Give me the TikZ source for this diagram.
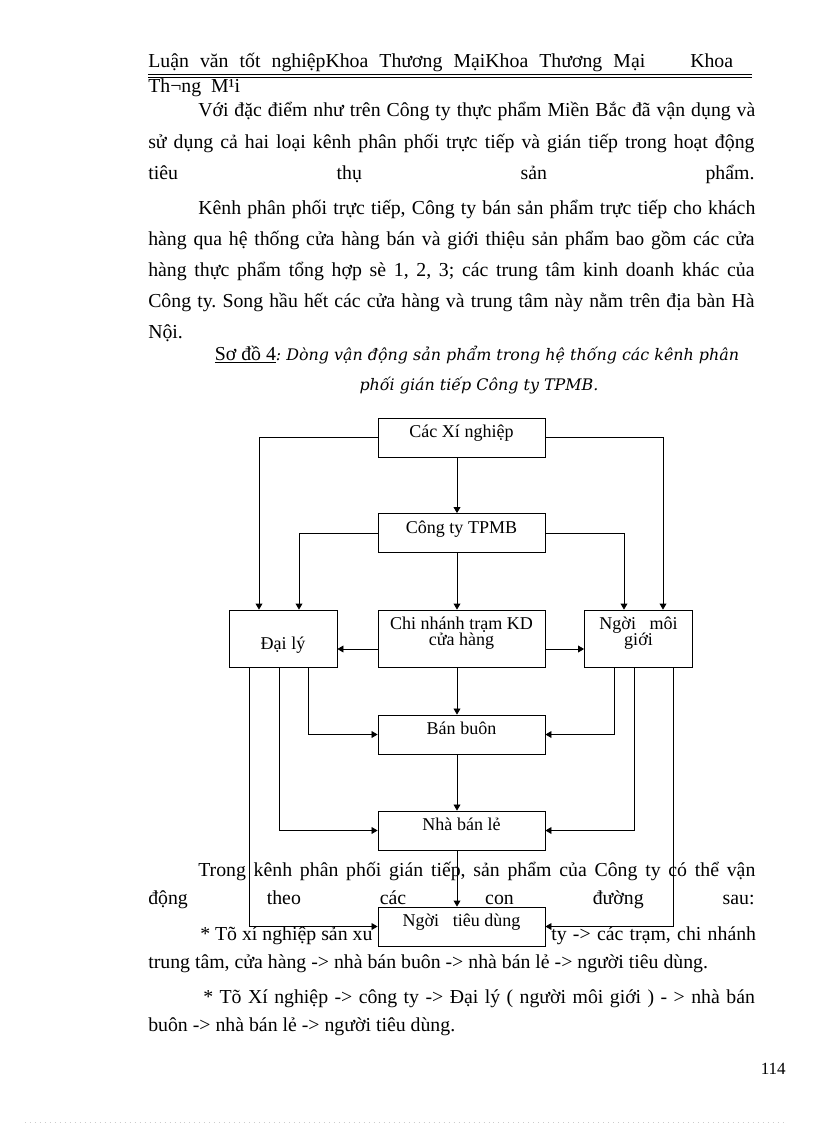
\documentclass[tikz,border=0pt]{standalone}
\usepackage{fontspec}
\setmainfont{Liberation Serif}
\newfontfamily\capfont{DejaVu Serif}
\usetikzlibrary{arrows.meta, calc}

\newcommand{\bodysize}{\fontsize{14.5}{17}\selectfont}
\newcommand{\capsize}{\capfont\itshape\fontsize{11.65}{13}\selectfont}
\newcommand{\fl}[2]{\makebox[#1][s]{#2}}
\newcommand{\twol}[3]{\parbox[t]{#1}{\centering\lineskiplimit=-20pt #2\\#3}}
\frenchspacing

\begin{document}
\begin{tikzpicture}[
        x=0.2574mm, y=-0.2574mm,
        txt/.style={anchor=base west, inner sep=0pt, font=\bodysize},
        blk/.style={
            rectangle, draw=black, fill=white, line width=0.6pt, inner sep=0pt,
            minimum width=43mm, minimum height=10.04mm,
            font=\fontsize{13.2}{11.7}\selectfont, text height=8pt, text depth=8pt
        },
        mid/.style={blk, minimum height=14.67mm},
        side/.style={blk, minimum width=27.8mm, minimum height=14.67mm},
        arrow/.style={-{Triangle[length=4.4pt, width=5pt]}, line width=0.6pt}
    ]
        \useasboundingbox (0,0) rectangle (816,1123);

        % Header
        \node[txt] (hd1) at (148,67) {\fl{364pt}{Luận văn tốt nghiệpKhoa Thương MạiKhoa Thương Mại}};
        \node[txt] (hd2) at (690,67) {Khoa};
        \draw[line width=1.1pt] (148,74.5) -- (752,74.5);
        \draw[line width=0.5pt] (148,77.5) -- (752,77.5);
        \node[txt] (hd3) at (148,92) {Th¬ng~~M¹i};

        % First paragraphs
        \node[txt] (p1a) at (198,116) {\fl{408pt}{Với đặc điểm như trên Công ty thực phẩm Miền Bắc đã vận dụng và}};
        \node[txt] (p1b) at (148,148) {\fl{444pt}{sử dụng cả hai loại kênh phân phối trực tiếp và gián tiếp trong hoạt động}};
        \node[txt] (p1c) at (148,179) {\fl{444pt}{tiêu thụ sản phẩm.}};

        \node[txt] (p2a) at (198,214.5) {\fl{408pt}{Kênh phân phối trực tiếp, Công ty bán sản phẩm trực tiếp cho khách}};
        \node[txt] (p2b) at (148,245.5) {\fl{444pt}{hàng qua hệ thống cửa hàng bán và giới thiệu sản phẩm bao gồm các cửa}};
        \node[txt] (p2c) at (148,276.5) {\fl{444pt}{hàng thực phẩm tổng hợp sè 1, 2, 3; các trung tâm kinh doanh khác của}};
        \node[txt] (p2d) at (148,307.5) {\fl{444pt}{Công ty. Song hầu hết các cửa hàng và trung tâm này nằm trên địa bàn Hà}};
        \node[txt] (p2e) at (148,338.5) {Nội.};

        % Caption
        \node[anchor=base, inner sep=0pt, font=\bodysize] (cap1) at (477,360) {\underline{Sơ đồ 4}{\capsize: Dòng vận động sản phẩm trong hệ thống các kênh phân}};
        \node[anchor=base, inner sep=0pt] (cap2) at (479,390) {{\capsize phối gián tiếp Công ty TPMB.}};

        % Text below the chart
        \node[txt] (p3a) at (198,876.5) {\fl{408pt}{Trong kênh phân phối gián tiếp, sản phẩm của Công ty có thể vận}};
        \node[txt] (p3b) at (148,904.5) {\fl{444pt}{động theo các con đường sau:}};
        \node[txt] (p3c) at (200,940) {* Tõ xí nghiệp sản xu};
        \node[txt] (p3d) at (551,940) {\fl{150pt}{ty -> các trạm, chi nhánh}};
        \node[txt] (p3e) at (148,968) {trung tâm, cửa hàng -> nhà bán buôn -> nhà bán lẻ -> người tiêu dùng.};
        \node[txt] (p4a) at (203,1003) {\fl{404pt}{* Tõ Xí nghiệp -> công ty -> Đại lý ( người môi giới ) - > nhà bán}};
        \node[txt] (p4b) at (148,1031) {buôn -> nhà bán lẻ -> người tiêu dùng.};

        % Footer
        \node[anchor=base east, inner sep=0pt, font=\fontsize{12.5}{14}\selectfont] (pgno) at (786,1074) {114};
        \draw[gray!40, line width=0.6pt, dash pattern=on 0.6pt off 3.05pt] (25,1122) -- (786,1122);

        % Chart boxes
        \node[blk] (xn) at (461.5,437.5) {Các Xí nghiệp};
        \node[blk] (ct) at (461.5,533) {Công ty TPMB};
        \node[side, text height=19.4pt, text depth=4pt] (dl) at (283,638.5) {Đại lý};
        \node[mid, text height=6pt, text depth=19.8pt] (cn) at (461.5,638.5) {\twol{40mm}{Chi nhánh trạm KD}{cửa hàng}};
        \node[side, text height=6pt, text depth=19.8pt] (mg) at (638.5,638.5) {\twol{25mm}{Ngời~~~môi}{giới}};
        \node[blk] (bb) at (461.5,734.5) {Bán buôn};
        \node[blk] (bl) at (461.5,830.5) {Nhà bán lẻ};
        \node[blk] (td) at (461.5,926.5) {Ngời~~~tiêu dùng};

        % Columns and rows of the connectors
        \coordinate (colC) at (457,0);
        \coordinate (dlA) at (249,0);
        \coordinate (dlB) at (259,0);
        \coordinate (dlC) at (279,0);
        \coordinate (dlD) at (299,0);
        \coordinate (dlE) at (308,0);
        \coordinate (mgA) at (614,0);
        \coordinate (mgB) at (624,0);
        \coordinate (mgC) at (634,0);
        \coordinate (mgD) at (663,0);
        \coordinate (mgE) at (673,0);
        \coordinate (rowR) at (0,649);

        % Flow arrows
        \draw[arrow] (xn.west) -| (dl.north -| dlB);
        \draw[arrow] (xn.east) -| (mg.north -| mgD);
        \draw[arrow] (xn.south -| colC) -- (ct.north -| colC);
        \draw[arrow] (ct.west) -| (dl.north -| dlD);
        \draw[arrow] (ct.east) -| (mg.north -| mgB);
        \draw[arrow] (ct.south -| colC) -- (cn.north -| colC);
        \draw[arrow] (cn.west |- rowR) -- (dl.east |- rowR);
        \draw[arrow] (cn.east |- rowR) -- (mg.west |- rowR);
        \draw[arrow] (cn.south -| colC) -- (bb.north -| colC);
        \draw[arrow] (bb.south -| colC) -- (bl.north -| colC);
        \draw[arrow] (bl.south -| colC) -- (td.north -| colC);

        \draw[arrow] (dl.south -| dlE) |- (bb.west);
        \draw[arrow] (dl.south -| dlC) |- (bl.west);
        \draw[arrow] (dl.south -| dlA) |- (td.west);
        \draw[arrow] (mg.south -| mgA) |- (bb.east);
        \draw[arrow] (mg.south -| mgC) |- (bl.east);
        \draw[arrow] (mg.south -| mgE) |- (td.east);

    \end{tikzpicture}
\end{document}
